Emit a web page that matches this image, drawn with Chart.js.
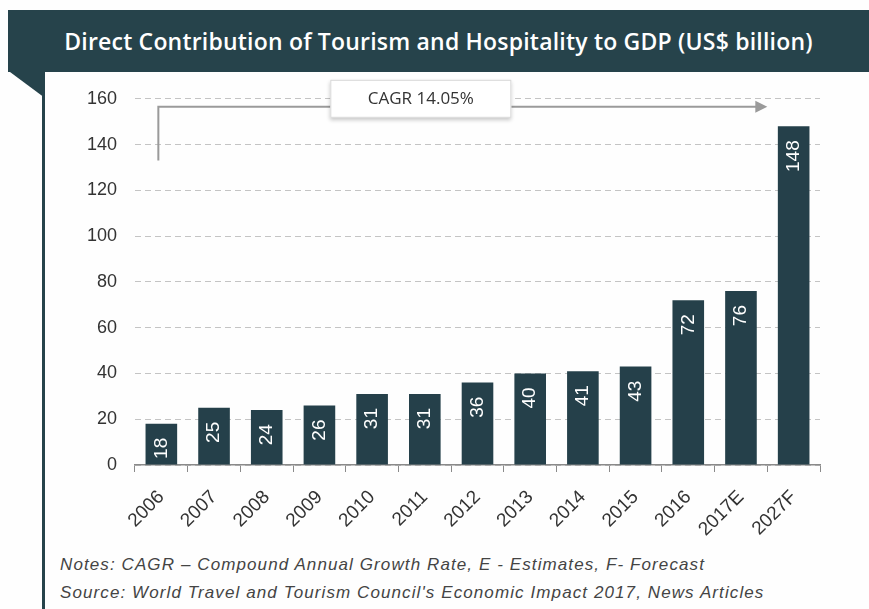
<!DOCTYPE html>
<html>
<head>
<meta charset="utf-8">
<script src="https://cdn.jsdelivr.net/npm/chart.js@4.4.1/dist/chart.umd.min.js"></script>
<style>
  body { margin: 0; background: #fff; }
  #wrap { position: relative; width: 869px; height: 609px; overflow: hidden; background: #fefefe; }
  #title {
    position: absolute; left: 8px; top: 10px; width: 861px; height: 62px;
    background: #26434b; color: #fff; text-align: center;
    font-family: "Open Sans", sans-serif; font-weight: 600; font-size: 23px;
    line-height: 62px; letter-spacing: 0.2px;
  }
  #fold {
    position: absolute; left: 10px; top: 72px; width: 35px; height: 26px;
    background: #26434b; clip-path: polygon(0 0, 100% 0, 100% 100%);
  }
  #rule { position: absolute; left: 42px; top: 72px; width: 3px; height: 537px; background: #26434b; }
  #chartBox { position: absolute; left: 45px; top: 70px; width: 815px; height: 480px; }
  .note {
    position: absolute; left: 60px; font-family: "Liberation Sans", Arial, sans-serif;
    font-style: italic; font-size: 17px; letter-spacing: 1.1px; color: #444; white-space: nowrap;
  }
</style>
</head>
<body>
<div id="wrap">
  <div id="title">Direct Contribution of Tourism and Hospitality to GDP (US$ billion)</div>
  <div id="fold"></div>
  <div id="rule"></div>
  <div id="chartBox"><canvas id="gdp-chart" width="815" height="480"></canvas></div>
  <div class="note" style="top:555px">Notes: CAGR – Compound Annual Growth Rate, E - Estimates, F- Forecast</div>
  <div class="note" style="top:583px">Source: World Travel and Tourism Council's Economic Impact 2017, News Articles</div>
</div>
<script>
const years = ['2006', '2007', '2008', '2009', '2010', '2011', '2012', '2013', '2014', '2015', '2016', '2017E', '2027F'];
const gdpValues = [18, 25, 24, 26, 31, 31, 36, 40, 41, 43, 72, 76, 148];
const yTicks = [0, 20, 40, 60, 80, 100, 120, 140, 160];
const cagrLabel = 'CAGR 14.05%';

const barColor = '#25404a';

// white value labels, rotated, inside the top of each bar
const valueLabels = {
  id: 'valueLabels',
  afterDatasetsDraw(chart) {
    const ctx = chart.ctx;
    const meta = chart.getDatasetMeta(0);
    ctx.save();
    ctx.fillStyle = '#ffffff';
    ctx.font = '19px "Liberation Sans", Arial, sans-serif';
    meta.data.forEach((bar, i) => {
      ctx.save();
      ctx.translate(bar.x, bar.y + 14);
      ctx.rotate(-Math.PI / 2);
      ctx.textAlign = 'right';
      ctx.textBaseline = 'middle';
      ctx.fillText(String(gdpValues[i]), 0, 0);
      ctx.restore();
    });
    ctx.restore();
  }
};

// CAGR arrow + label box
const cagrArrow = {
  id: 'cagrArrow',
  afterDraw(chart) {
    const ctx = chart.ctx;
    const x = chart.scales.x;
    const y = chart.scales.y;
    const step = x.getPixelForValue(1) - x.getPixelForValue(0);
    const x0 = x.getPixelForValue(0) - 3;
    const x1 = x.getPixelForValue(11) + step * 0.5;
    const yLow = y.getPixelForValue(133);
    const yHigh = y.getPixelForValue(156.5);

    ctx.save();
    ctx.strokeStyle = '#9a9a9a';
    ctx.lineWidth = 2;
    ctx.beginPath();
    ctx.moveTo(x0, yLow);
    ctx.lineTo(x0, yHigh);
    ctx.lineTo(x1 - 8, yHigh);
    ctx.stroke();
    ctx.fillStyle = '#9a9a9a';
    ctx.beginPath();
    ctx.moveTo(x1, yHigh);
    ctx.lineTo(x1 - 12, yHigh - 6);
    ctx.lineTo(x1 - 12, yHigh + 6);
    ctx.closePath();
    ctx.fill();

    // box
    const cx = x.getPixelForValue(5) - 4;
    const cy = y.getPixelForValue(160);
    const w = 181, h = 38;
    ctx.shadowColor = 'rgba(0,0,0,0.22)';
    ctx.shadowBlur = 4;
    ctx.shadowOffsetY = 2;
    ctx.fillStyle = '#ffffff';
    ctx.fillRect(cx - w / 2, cy - h / 2, w, h);
    ctx.shadowColor = 'transparent';
    ctx.strokeStyle = '#d8d8d8';
    ctx.lineWidth = 1;
    ctx.strokeRect(cx - w / 2 + 0.5, cy - h / 2 + 0.5, w - 1, h - 1);
    ctx.fillStyle = '#333';
    ctx.font = '500 17px "Open Sans", sans-serif';
    ctx.textAlign = 'center';
    ctx.textBaseline = 'middle';
    ctx.fillText(cagrLabel, cx, cy);
    ctx.restore();
  }
};

const ctx = document.getElementById('gdp-chart').getContext('2d');
new Chart(ctx, {
  type: 'bar',
  data: {
    labels: years,
    datasets: [{
      data: gdpValues,
      backgroundColor: barColor,
      borderWidth: 0,
      barPercentage: 0.6,
      categoryPercentage: 1.0,
    }],
  },
  options: {
    responsive: false,
    animation: false,
    layout: { padding: { top: 27, right: 40, left: 0, bottom: 0 } },
    plugins: { legend: { display: false }, tooltip: { enabled: false } },
    scales: {
      x: {
        afterFit(scale) { scale.height = 85; },
        border: { display: true, color: '#8a8a8a', width: 1.5 },
        grid: { display: true, drawOnChartArea: false, drawTicks: true, tickLength: 7, color: '#8a8a8a', offset: true },
        ticks: {
          minRotation: 45, maxRotation: 45, autoSkip: false, padding: 14,
          color: '#333', font: { family: '"Liberation Sans", Arial, sans-serif', size: 19 },
        },
      },
      y: {
        min: 0, max: 160,
        afterFit(scale) { scale.width = 90; },
        afterBuildTicks(scale) { scale.ticks = yTicks.map((v) => ({ value: v })); },
        border: { display: false, dash: [6, 4] },
        grid: { color: '#c4c4c4', drawTicks: false, lineWidth: 1 },
        ticks: {
          padding: 18, color: '#333',
          font: { family: '"Liberation Sans", Arial, sans-serif', size: 18 },
        },
      },
    },
  },
  plugins: [valueLabels, cagrArrow],
});
</script>
</body>
</html>
